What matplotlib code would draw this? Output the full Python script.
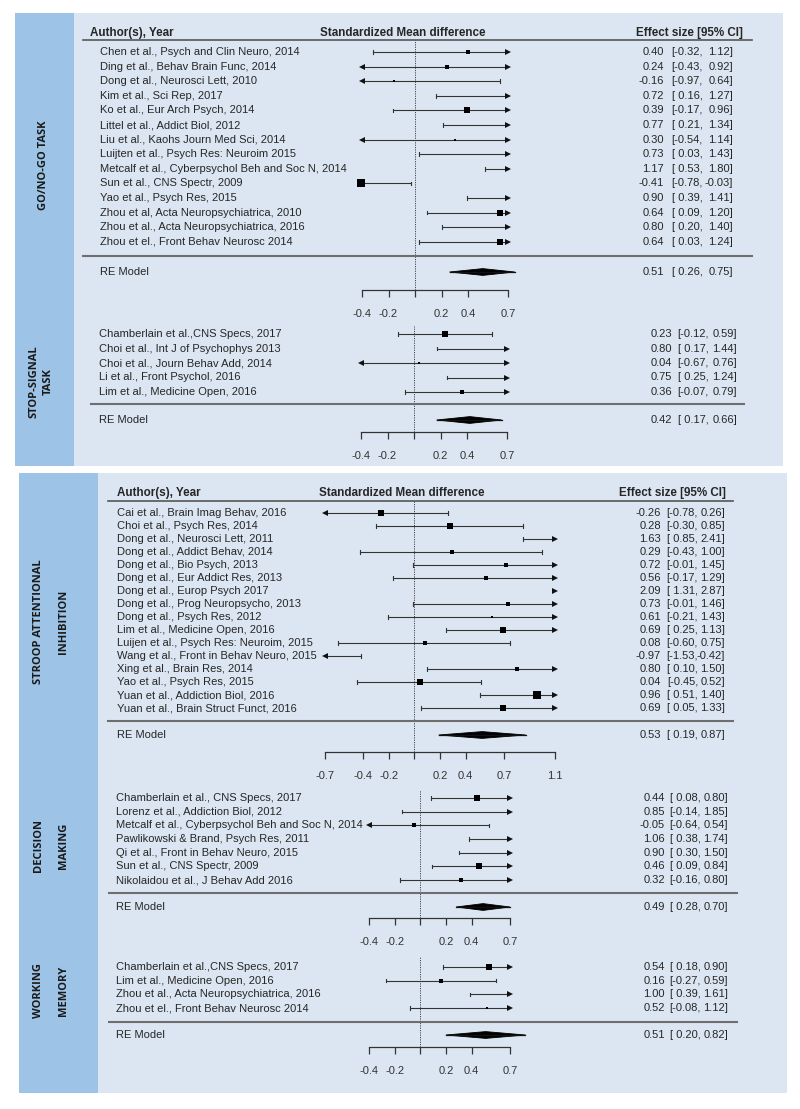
import matplotlib
matplotlib.use("Agg")
import matplotlib.pyplot as plt
import matplotlib.transforms as mtransforms
from matplotlib.patches import Rectangle

plt.rcParams['font.family'] = ['Liberation Sans', 'DejaVu Sans']

# ---------------- data ----------------
go_labels = ["Chen et al., Psych and Clin Neuro, 2014",
             "Ding et al., Behav Brain Func, 2014",
             "Dong et al., Neurosci Lett, 2010",
             "Kim et al., Sci Rep, 2017",
             "Ko et al., Eur Arch Psych, 2014",
             "Littel et al., Addict Biol, 2012",
             "Liu et al., Kaohs Journ Med Sci, 2014",
             "Luijten et al., Psych Res: Neuroim 2015",
             "Metcalf et al., Cyberpsychol Beh and Soc N, 2014",
             "Sun et al., CNS Spectr, 2009",
             "Yao et al., Psych Res, 2015",
             "Zhou et al, Acta Neuropsychiatrica, 2010",
             "Zhou et al., Acta Neuropsychiatrica, 2016",
             "Zhou et el., Front Behav Neurosc 2014"]
go_est = [0.40, 0.24, -0.16, 0.72, 0.39, 0.77, 0.30, 0.73, 1.17, -0.41, 0.90, 0.64, 0.80, 0.64]
go_lo = [-0.32, -0.43, -0.97, 0.16, -0.17, 0.21, -0.54, 0.03, 0.53, -0.78, 0.39, 0.09, 0.20, 0.03]
go_hi = [1.12, 0.92, 0.64, 1.27, 0.96, 1.34, 1.14, 1.43, 1.80, -0.03, 1.41, 1.20, 1.40, 1.24]
go_size = [3, 4, 2, 3, 5, 3, 2, 3, 3, 7, 3, 5, 3, 5]
go_re = (0.51, 0.26, 0.75)

ss_labels = ["Chamberlain et al.,CNS Specs, 2017",
             "Choi et al., Int J of Psychophys 2013",
             "Choi et al., Journ Behav Add, 2014",
             "Li et al., Front Psychol, 2016",
             "Lim et al., Medicine Open, 2016"]
ss_est = [0.23, 0.80, 0.04, 0.75, 0.36]
ss_lo = [-0.12, 0.17, -0.67, 0.25, -0.07]
ss_hi = [0.59, 1.44, 0.76, 1.24, 0.79]
ss_size = [6, 3, 2, 3, 4]
ss_re = (0.42, 0.17, 0.66)

st_labels = ["Cai et al., Brain Imag Behav, 2016",
             "Choi et al., Psych Res, 2014",
             "Dong et al., Neurosci Lett, 2011",
             "Dong et al., Addict Behav, 2014",
             "Dong et al., Bio Psych, 2013",
             "Dong et al., Eur Addict Res, 2013",
             "Dong et al., Europ Psych 2017",
             "Dong et al., Prog Neuropsycho, 2013",
             "Dong et al., Psych Res, 2012",
             "Lim et al., Medicine Open, 2016",
             "Luijen et al., Psych Res: Neuroim, 2015",
             "Wang et al., Front in Behav Neuro, 2015",
             "Xing et al., Brain Res, 2014",
             "Yao et al., Psych Res, 2015",
             "Yuan et al., Addiction Biol, 2016",
             "Yuan et al., Brain Struct Funct, 2016"]
st_est = [-0.26, 0.28, 1.63, 0.29, 0.72, 0.56, 2.09, 0.73, 0.61, 0.69, 0.08, -0.97, 0.80, 0.04, 0.96, 0.69]
st_lo = [-0.78, -0.30, 0.85, -0.43, -0.01, -0.17, 1.31, -0.01, -0.21, 0.25, -0.60, -1.53, 0.10, -0.45, 0.51, 0.05]
st_hi = [0.26, 0.85, 2.41, 1.00, 1.45, 1.29, 2.87, 1.46, 1.43, 1.13, 0.75, -0.42, 1.50, 0.52, 1.40, 1.33]
st_size = [5, 6, 3, 4, 4, 4, 3, 4, 2, 6, 4, 3, 4, 6, 7, 5]
st_re = (0.53, 0.19, 0.87)

dm_labels = ["Chamberlain et al., CNS Specs, 2017",
             "Lorenz et al., Addiction Biol, 2012",
             "Metcalf et al., Cyberpsychol Beh and Soc N, 2014",
             "Pawlikowski & Brand, Psych Res, 2011",
             "Qi et al., Front in Behav Neuro, 2015",
             "Sun et al., CNS Spectr, 2009",
             "Nikolaidou et al., J Behav Add 2016"]
dm_est = [0.44, 0.85, -0.05, 1.06, 0.90, 0.46, 0.32]
dm_lo = [0.08, -0.14, -0.64, 0.38, 0.30, 0.09, -0.16]
dm_hi = [0.80, 1.85, 0.54, 1.74, 1.50, 0.84, 0.80]
dm_size = [5, 3, 3, 3, 3, 6, 4]
dm_re = (0.49, 0.28, 0.70)

wm_labels = ["Chamberlain et al.,CNS Specs, 2017",
             "Lim et al., Medicine Open, 2016",
             "Zhou et al., Acta Neuropsychiatrica, 2016",
             "Zhou et el., Front Behav Neurosc 2014"]
wm_est = [0.54, 0.16, 1.00, 0.52]
wm_lo = [0.18, -0.27, 0.39, -0.08]
wm_hi = [0.90, 0.59, 1.61, 1.12]
wm_size = [5, 4, 3, 2]
wm_re = (0.51, 0.20, 0.82)

ticks_a = [-0.4, -0.2, 0.0, 0.2, 0.4, 0.7]
ticks_b = [-0.7, -0.4, -0.2, 0.0, 0.2, 0.4, 0.7, 1.1]

side_labels = ["GO/NO-GO TASK", "STOP-SIGNAL\nTASK", "STROOP ATTENTIONAL\nINHIBITION",
               "DECISION\nMAKING", "WORKING\nMEMORY"]

# ---------------- figure ----------------
W, H = 800, 1109
fig = plt.figure(figsize=(W / 100, H / 100), dpi=100)

PANEL = "#DCE6F2"
SIDE = "#9DC3E6"
TXT = "#262626"
FS = 8.0

bg = fig.add_axes([0, 0, 1, 1])
bg.set_xlim(0, W)
bg.set_ylim(H, 0)
bg.axis("off")
bg.add_patch(Rectangle((15, 13), 768, 453, color=PANEL, lw=0))
bg.add_patch(Rectangle((15, 13), 59, 453, color=SIDE, lw=0))
bg.add_patch(Rectangle((19, 473), 768, 620, color=PANEL, lw=0))
bg.add_patch(Rectangle((19, 473), 79, 620, color=SIDE, lw=0))

side_kw = dict(rotation=90, ha="center", va="center", fontweight="bold",
               family=["Open Sans", "DejaVu Sans"], color="#1a1a1a", fontsize=8.0,
               multialignment="center")
bg.text(44, 165, side_labels[0], **side_kw)
bg.text(41, 382, side_labels[1], linespacing=1.4, **side_kw)
bg.text(51, 622, side_labels[2], linespacing=2.7, **side_kw)
bg.text(51, 846, side_labels[3], linespacing=2.7, **side_kw)
bg.text(51, 991, side_labels[4], linespacing=2.7, **side_kw)

# headers
hdr = dict(fontsize=8.4, fontweight="bold", color=TXT, va="center")
bg.text(90, 33, "Author(s), Year", ha="left", **hdr)
bg.text(403, 33, "Standardized Mean difference", ha="center", **hdr)
bg.text(743, 33, "Effect size [95% CI]", ha="right", **hdr)
bg.plot([83, 752], [39.5, 39.5], color="#555555", lw=1.2)
bg.text(117, 493, "Author(s), Year", ha="left", **hdr)
bg.text(402, 493, "Standardized Mean difference", ha="center", **hdr)
bg.text(726, 493, "Effect size [95% CI]", ha="right", **hdr)
bg.plot([108, 733], [500.5, 500.5], color="#555555", lw=1.2)


def section(labels, est, lo, hi, size, re, xmin, xmax, pxmin, pxmax,
            first_px, sp, top_px, axis_px, sep_px, re_px, label_x, sep_x, cols,
            ticks):
    ax = fig.add_axes([pxmin / W, 1 - axis_px / H, (pxmax - pxmin) / W,
                       (axis_px - top_px) / H])
    ax.patch.set_alpha(0)
    ax.set_xlim(xmin, xmax)
    ax.set_ylim((axis_px - first_px) / sp, (top_px - first_px) / sp)
    for s in ("top", "left", "right"):
        ax.spines[s].set_visible(False)
    ax.spines["bottom"].set_color("#333333")
    ax.spines["bottom"].set_linewidth(0.9)
    ax.set_yticks([])
    ax.set_xticks(ticks)
    ax.set_xticklabels(["" if t == 0 else f"{t:g}" for t in ticks])
    ax.tick_params(axis="x", direction="out", length=5, width=0.9, pad=9,
                   labelsize=8.0, colors="#333333")
    ax.axvline(0, color="#444444", lw=0.7, ls=(0, (1.2, 1.2)))

    tr = mtransforms.blended_transform_factory(fig.transFigure, ax.transData)
    cap = 0.13
    lc = "#333333"
    for i in range(len(est)):
        a, b = max(lo[i], xmin), min(hi[i], xmax)
        if a < b:
            ax.plot([a, b], [i, i], color=lc, lw=0.8, clip_on=False)
        if xmin <= lo[i] <= xmax:
            ax.plot([lo[i], lo[i]], [i - cap, i + cap], color=lc, lw=0.8, clip_on=False)
        if xmin <= hi[i] <= xmax:
            ax.plot([hi[i], hi[i]], [i - cap, i + cap], color=lc, lw=0.8, clip_on=False)
        if lo[i] < xmin:
            ax.plot([xmin], [i], marker="<", ms=4.6, color="#111111", mew=0, clip_on=False)
        if hi[i] > xmax:
            ax.plot([xmax], [i], marker=">", ms=4.6, color="#111111", mew=0, clip_on=False)
        if xmin - 0.02 <= est[i] <= xmax:
            ax.plot([est[i]], [i], marker="s", ms=size[i] / 1.3, color="#000000",
                    mew=0, clip_on=False)
        ax.text(label_x / W, i, labels[i], transform=tr, ha="left", va="center",
                fontsize=FS, color=TXT)
        ax.text(cols[0] / W, i, f"{est[i]:.2f}", transform=tr, ha="right",
                va="center", fontsize=FS, color=TXT)
        ax.text(cols[1] / W, i, f"[{lo[i]:5.2f},", transform=tr, ha="right",
                va="center", fontsize=FS, color=TXT)
        ax.text(cols[2] / W, i, f"{hi[i]:.2f}]", transform=tr, ha="right",
                va="center", fontsize=FS, color=TXT)

    r_sep = (sep_px - first_px) / sp
    ax.plot([sep_x[0] / W, sep_x[1] / W], [r_sep, r_sep], transform=tr,
            color="#6e6e6e", lw=1.5, clip_on=False)
    r_re = (re_px - first_px) / sp
    e, l, h = re
    hh = 3.4 / sp
    ax.plot([l, h], [r_re, r_re], color="#111111", lw=0.9, clip_on=False)
    ax.fill([l, e, h, e], [r_re, r_re - hh, r_re, r_re + hh], color="#000000",
            lw=0.6, ec="#000000", clip_on=False)
    ax.text(label_x / W, r_re, "RE Model", transform=tr, ha="left", va="center",
            fontsize=FS, color=TXT)
    ax.text(cols[0] / W, r_re, f"{e:.2f}", transform=tr, ha="right",
            va="center", fontsize=FS, color=TXT)
    ax.text(cols[1] / W, r_re, f"[{l:5.2f},", transform=tr, ha="right",
            va="center", fontsize=FS, color=TXT)
    ax.text(cols[2] / W, r_re, f"{h:.2f}]", transform=tr, ha="right",
            va="center", fontsize=FS, color=TXT)
    return ax


section(go_labels, go_est, go_lo, go_hi, go_size, go_re, -0.4, 0.7, 362, 508,
        52, 14.6, 39.5, 290, 256, 272, 100, (83, 752), (664, 703, 733), ticks_a)
section(ss_labels, ss_est, ss_lo, ss_hi, ss_size, ss_re, -0.4, 0.7, 361, 507,
        334, 14.5, 326, 432, 404, 420, 99, (91, 744), (672, 709, 737), ticks_a)
section(st_labels, st_est, st_lo, st_hi, st_size, st_re, -0.7, 1.1, 325, 555,
        513, 13.0, 500.5, 752, 721, 735, 117, (108, 733), (661, 698, 725), ticks_b)
section(dm_labels, dm_est, dm_lo, dm_hi, dm_size, dm_re, -0.4, 0.7, 369, 510,
        798, 13.67, 790, 918, 893, 907, 116, (109, 737), (665, 701, 728), ticks_a)
section(wm_labels, wm_est, wm_lo, wm_hi, wm_size, wm_re, -0.4, 0.7, 369, 510,
        967, 13.67, 957, 1047, 1022, 1035, 116, (109, 737), (665, 701, 728), ticks_a)

fig.savefig("out.png", dpi=100, facecolor="white")
